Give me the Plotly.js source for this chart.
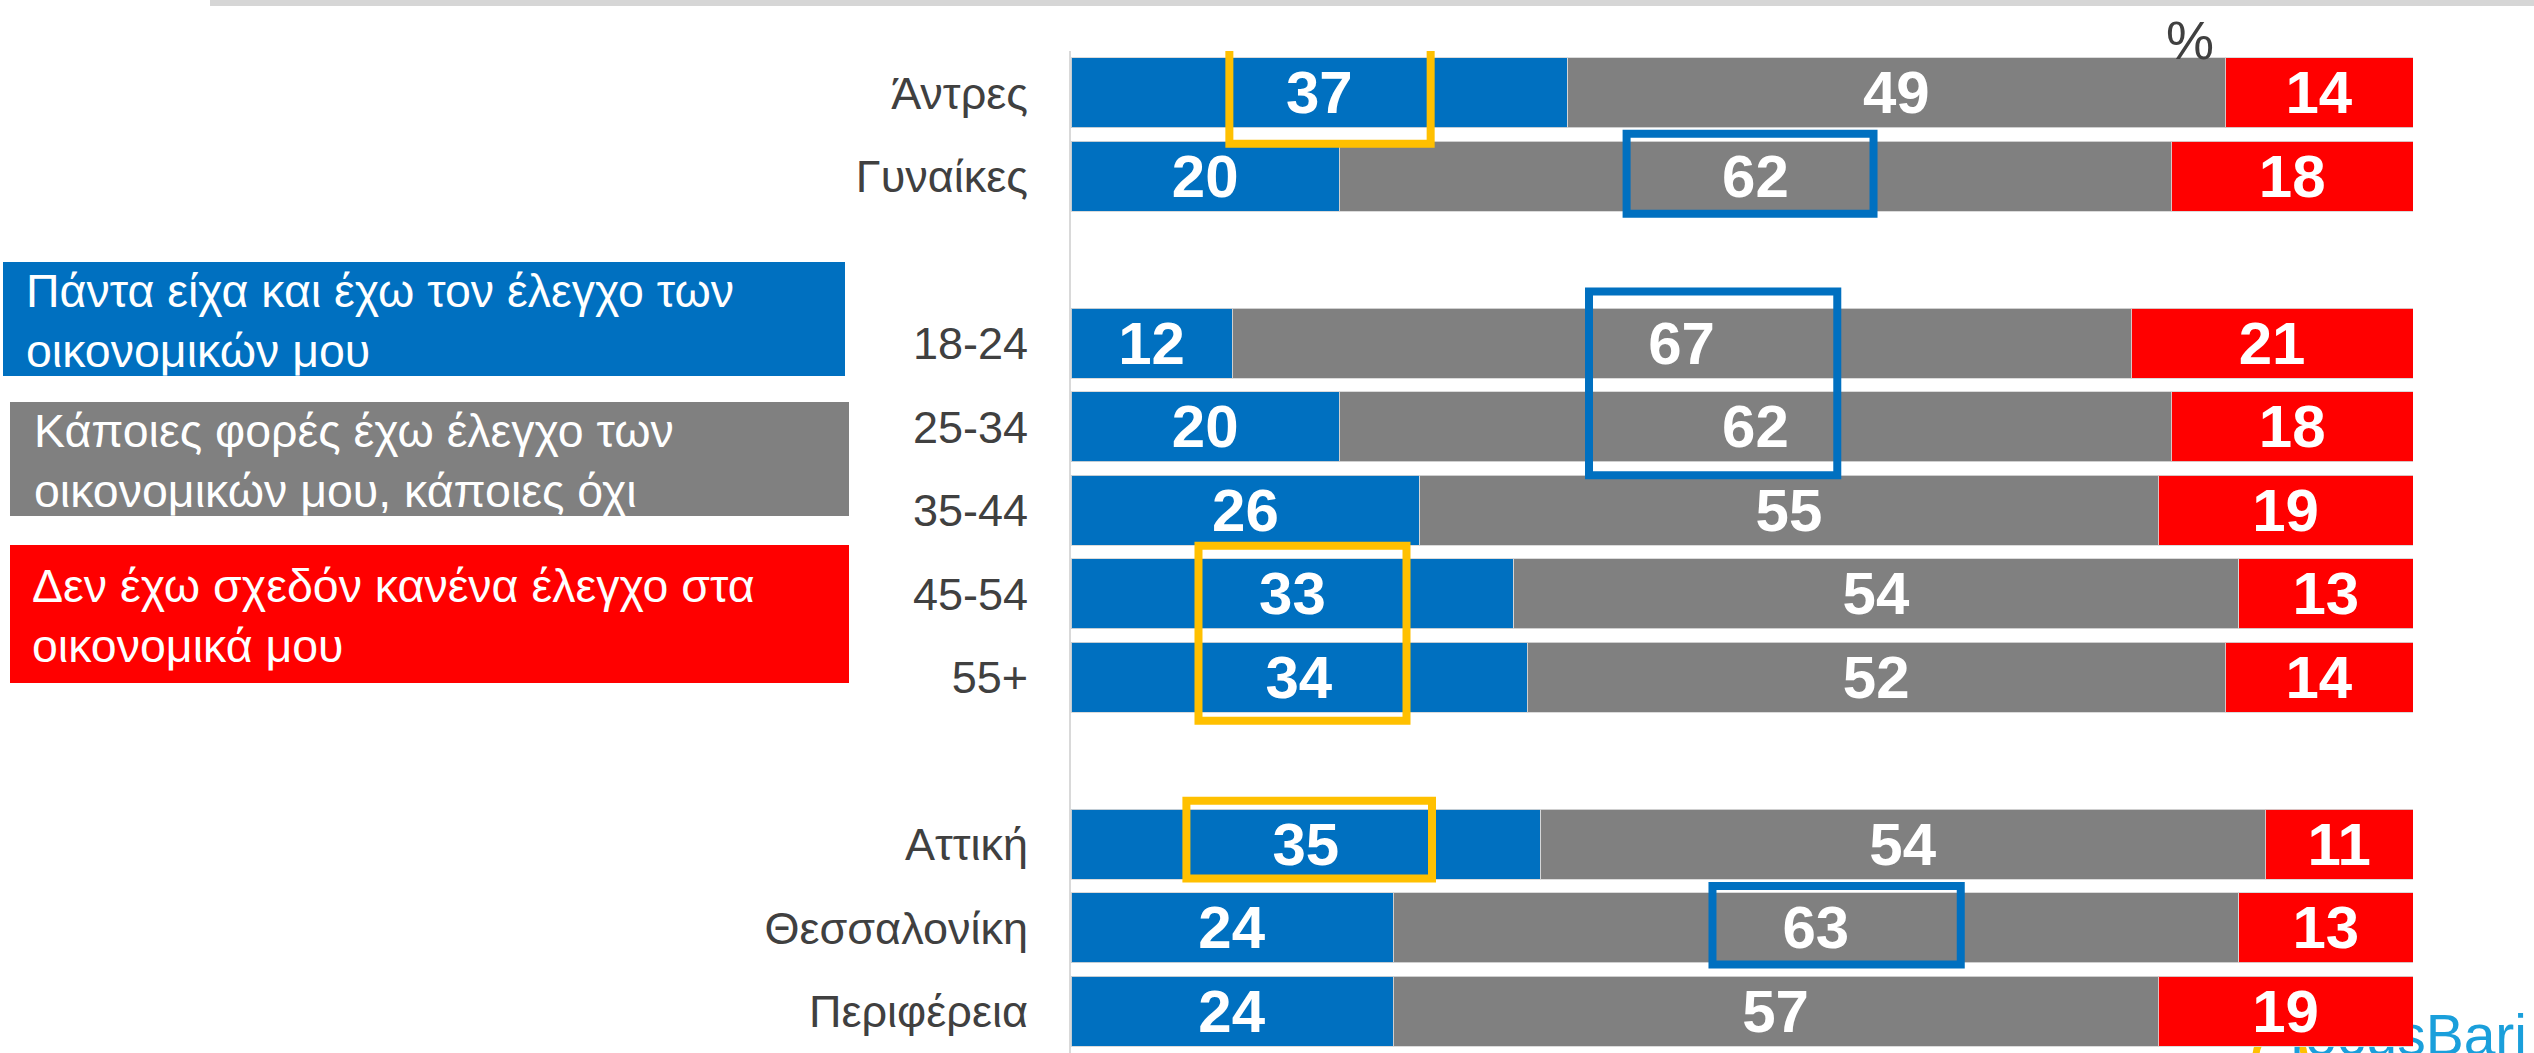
<!DOCTYPE html>
<html>
<head>
<meta charset="utf-8">
<script src="https://cdn.plot.ly/plotly-3.0.1.min.js"></script>
<style>html,body{margin:0;padding:0;background:#fff;}#chart{width:2534px;height:1053px;}</style>
</head>
<body>
<div id="chart"></div>
<script>
// ---- data ----
const categories = ['Άντρες', 'Γυναίκες', ' ', '18-24', '25-34', '35-44', '45-54', '55+', '  ', 'Αττική', 'Θεσσαλονίκη', 'Περιφέρεια'];
const alwaysControl = [37, 20, null, 12, 20, 26, 33, 34, null, 35, 24, 24];
const sometimesControl = [49, 62, null, 67, 62, 55, 54, 52, null, 54, 63, 57];
const noControl = [14, 18, null, 21, 18, 19, 13, 14, null, 11, 13, 19];
const seriesNames = [
  'Πάντα είχα και έχω τον έλεγχο των<br>οικονομικών μου',
  'Κάποιες φορές έχω έλεγχο των<br>οικονομικών μου, κάποιες όχι',
  'Δεν έχω σχεδόν κανένα έλεγχο στα<br>οικονομικά μου'
];
const unitLabel = '%';
const logoText = 'focusBari';

// ---- style ----
const colors = ['#0070C0', '#808080', '#FF0000'];
const yellow = '#FFC000';
const FONT = 'Liberation Sans, Arial, sans-serif';

// plot area in pixels
const W = 2534, H = 1053, L = 1071, R = 2413, T = 51, B = 1053;
const px = x => (x - L) / (R - L);
const py = y => (B - y) / (B - T);
const idx = c => categories.indexOf(c);

function barTrace(vals, name, color) {
  return {
    type: 'bar', orientation: 'h', name: name,
    y: categories, x: vals,
    marker: {color: color, line: {color: 'rgba(215,215,215,0.9)', width: 1}},
    text: vals.map(v => v == null ? '' : String(v)),
    textposition: 'inside', insidetextanchor: 'middle', textangle: 0,
    constraintext: 'none', cliponaxis: false,
    textfont: {family: FONT, size: 60, color: '#ffffff', weight: 'bold'},
    hoverinfo: 'skip'
  };
}

const data = [
  barTrace(alwaysControl, seriesNames[0], colors[0]),
  barTrace(sometimesControl, seriesNames[1], colors[1]),
  barTrace(noControl, seriesNames[2], colors[2])
];

// highlight boxes (category span + value span)
const highlights = [
  {c0: 'Άντρες', c1: 'Άντρες', a: -0.55, b: 0.61, x0: 11.8, x1: 26.8, color: yellow},
  {c0: 'Γυναίκες', c1: 'Γυναίκες', a: -0.51, b: 0.45, x0: 41.4, x1: 59.8, color: colors[0]},
  {c0: '18-24', c1: '25-34', a: -0.62, b: 0.58, x0: 38.6, x1: 57.1, color: colors[0]},
  {c0: '45-54', c1: '55+', a: -0.575, b: 0.52, x0: 9.5, x1: 25.0, color: yellow},
  {c0: 'Αττική', c1: 'Αττική', a: -0.52, b: 0.41, x0: 8.6, x1: 26.9, color: yellow},
  {c0: 'Θεσσαλονίκη', c1: 'Θεσσαλονίκη', a: -0.50, b: 0.44, x0: 47.8, x1: 66.3, color: colors[0]}
];

const shapes = [];
// top grey rule
shapes.push({type: 'rect', xref: 'paper', yref: 'paper', x0: px(210), x1: px(2534), y0: py(6), y1: py(0),
  fillcolor: '#d6d6d6', line: {width: 0}, layer: 'above'});

highlights.forEach(h => {
  shapes.push({type: 'rect', xref: 'x', yref: 'y', x0: h.x0, x1: h.x1,
    y0: idx(h.c0) + h.a, y1: idx(h.c1) + h.b,
    line: {color: h.color, width: 8}, fillcolor: 'rgba(0,0,0,0)', layer: 'above'});
});

// legend boxes
const legendBoxes = [
  {x0: 3, x1: 845, y0: 262, y1: 376, tx: 24},
  {x0: 10, x1: 849, y0: 402, y1: 516, tx: 32},
  {x0: 10, x1: 849, y0: 545, y1: 683, tx: 30}
];
const annotations = [];
legendBoxes.forEach((b, i) => {
  shapes.push({type: 'rect', xref: 'paper', yref: 'paper', x0: px(b.x0), x1: px(b.x1), y0: py(b.y1), y1: py(b.y0),
    fillcolor: colors[i], line: {width: 0}, layer: 'above'});
  annotations.push({xref: 'paper', yref: 'paper', x: px(b.tx), y: py((b.y0 + b.y1) / 2 + 2),
    xanchor: 'left', yanchor: 'middle', align: 'left', showarrow: false,
    text: seriesNames[i], font: {family: FONT, size: 46.5, color: '#ffffff'}});
});

annotations.push({xref: 'paper', yref: 'paper', x: px(2190), y: py(40), xanchor: 'center', yanchor: 'middle',
  showarrow: false, text: unitLabel, font: {family: FONT, size: 54, color: '#404040'}});

// logo (behind bars)
shapes.push({type: 'circle', xref: 'paper', yref: 'paper', x0: px(2256), x1: px(2304), y0: py(1080), y1: py(1032),
  line: {color: yellow, width: 7}, fillcolor: 'rgba(0,0,0,0)', layer: 'below'});
shapes.push({type: 'rect', xref: 'paper', yref: 'paper', x0: px(2290), x1: px(2530), y0: py(1100), y1: py(998),
  line: {width: 0}, fillcolor: 'rgba(0,0,0,0)', layer: 'below',
  label: {text: logoText, textposition: 'top right', padding: 0,
    font: {family: FONT, size: 57, color: '#1a9fdb'}}});

const layout = {
  width: W, height: H,
  margin: {l: L, r: W - R, t: T, b: H - B, pad: 0},
  paper_bgcolor: '#ffffff', plot_bgcolor: 'rgba(0,0,0,0)',
  barmode: 'stack', bargap: 0.162,
  showlegend: false,
  xaxis: {range: [0, 100], visible: false, fixedrange: true},
  yaxis: {
    type: 'category', categoryorder: 'array', categoryarray: categories,
    range: [categories.length - 0.5, -0.5],
    showline: true, linecolor: '#d9d9d9', linewidth: 2,
    showgrid: false, zeroline: false, ticks: '', ticklabelstandoff: 32,
    tickfont: {family: FONT, size: 45, color: '#404040'}
  },
  shapes: shapes,
  annotations: annotations,
  font: {family: FONT}
};

Plotly.newPlot('chart', data, layout, {displayModeBar: false, staticPlot: true});
</script>
</body>
</html>
